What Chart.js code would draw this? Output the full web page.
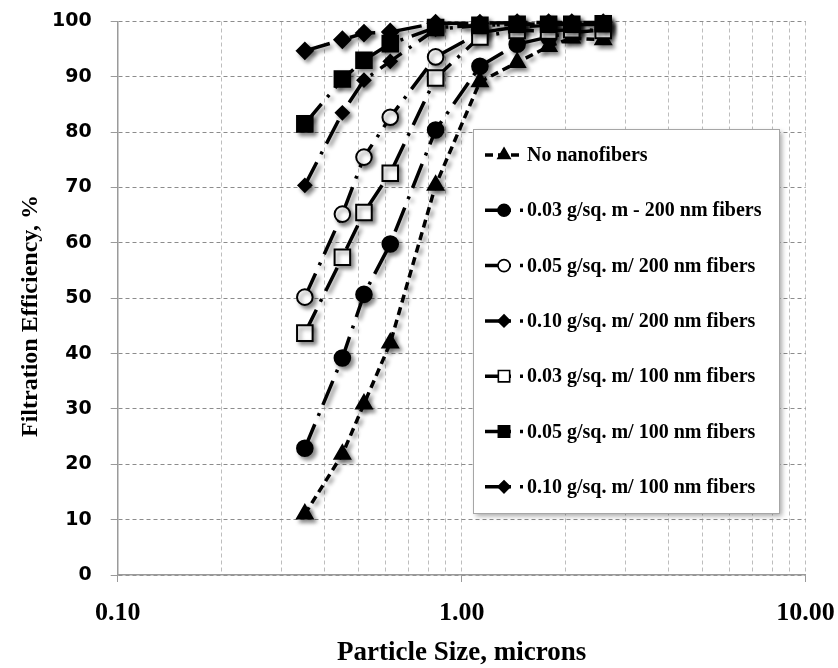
<!DOCTYPE html>
<html><head><meta charset="utf-8">
<script src="https://cdn.jsdelivr.net/npm/chart.js"></script>
<style>html,body{margin:0;padding:0;background:#fff;}#wrap{position:relative;width:838px;height:668px;}</style>
</head><body><div id="wrap"><canvas id="c"></canvas></div>
<script>
// ---- data ----
const sizes   = [0.35, 0.45, 0.52, 0.62, 0.84, 1.13, 1.45, 1.79, 2.09, 2.58];
const noNano  = [11.0, 21.8, 30.9, 41.9, 70.4, 89.1, 92.6, 95.5, 97.0, 96.7];
const g03_200 = [22.9, 39.2, 50.7, 59.8, 80.4, 91.9, 95.9, 97.2, 98.0, 98.5];
const g05_200 = [50.2, 65.2, 75.5, 82.7, 93.6, 98.0, 99.0, 99.3, 99.4, 99.5];
const g10_200 = [70.4, 83.5, 89.4, 92.8, 98.6, 99.3, 99.5, 99.6, 99.6, 99.7];
const g03_100 = [43.7, 57.4, 65.5, 72.6, 89.8, 97.2, 98.4, 98.3, 98.5, 98.4];
const g05_100 = [81.5, 89.6, 93.0, 96.0, 98.9, 99.3, 99.5, 99.5, 99.5, 99.6];
const g10_100 = [94.7, 96.7, 97.9, 98.1, 99.7, 99.7, 99.8, 99.8, 99.8, 99.8];
const seriesLabels = [
  'No nanofibers',
  '0.03 g/sq. m - 200 nm fibers',
  '0.05 g/sq. m/ 200 nm fibers',
  '0.10 g/sq. m/ 200 nm fibers',
  '0.03 g/sq. m/ 100 nm fibers',
  '0.05 g/sq. m/ 100 nm fibers',
  '0.10 g/sq. m/ 100 nm fibers'
];
const xTickValues = [0.1,0.2,0.3,0.4,0.5,0.6,0.7,0.8,0.9,1,2,3,4,5,6,7,8,9,10];
const xDecades = [0.1, 1, 10];
const yTickValues = [0,10,20,30,40,50,60,70,80,90,100];
const xTitle = 'Particle Size, microns';
const yTitle = 'Filtration Efficiency, %';

// ---- styles ----
const DASH_SHORT = [8, 5];
const DASH_LONGDOT = [26, 9, 3, 9];
const styles = [
  {pointStyle:'triangle', radius:9,   fill:'#000', dash:DASH_SHORT,   lr:7},
  {pointStyle:'circle',   radius:7.8, fill:'#000', dash:DASH_LONGDOT, lr:6},
  {pointStyle:'circle',   radius:7.8, fill:'#fff', dash:DASH_LONGDOT, lr:6},
  {pointStyle:'rectRot',  radius:6.5, fill:'#000', dash:DASH_LONGDOT, lr:6},
  {pointStyle:'rect',     radius:11,  fill:'#fff', dash:DASH_LONGDOT, lr:8},
  {pointStyle:'rect',     radius:11,  fill:'#000', dash:DASH_LONGDOT, lr:8},
  {pointStyle:'rectRot',  radius:8,   fill:'#000', dash:DASH_LONGDOT, lr:6}
];
const seriesValues = [noNano, g03_200, g05_200, g10_200, g03_100, g05_100, g10_100];

const datasets = seriesValues.map((vals, i) => ({
  label: seriesLabels[i],
  data: sizes.map((x, j) => ({x: x, y: vals[j]})),
  borderColor: '#000',
  borderWidth: 3.5,
  borderDash: styles[i].dash,
  borderCapStyle: 'butt',
  tension: 0,
  fill: false,
  pointStyle: styles[i].pointStyle,
  pointRadius: styles[i].radius,
  pointHoverRadius: styles[i].radius,
  pointBackgroundColor: styles[i].fill,
  pointBorderColor: '#000',
  pointBorderWidth: 2,
  clip: false,
  order: -i,
  legendRadius: styles[i].lr
}));

function drawMarker(ctx, style, r, x, y, fill) {
  ctx.save();
  ctx.setLineDash([]);
  ctx.fillStyle = fill; ctx.strokeStyle = '#000'; ctx.lineWidth = 1.6;
  ctx.beginPath();
  if (style === 'circle') {
    ctx.arc(x, y, r, 0, Math.PI*2);
  } else if (style === 'triangle') {
    ctx.moveTo(x, y - r);
    ctx.lineTo(x + r*0.866, y + r*0.5);
    ctx.lineTo(x - r*0.866, y + r*0.5);
    ctx.closePath();
  } else if (style === 'rect') {
    const s = r*0.7071;
    ctx.rect(x - s, y - s, 2*s, 2*s);
  } else if (style === 'rectRot') {
    ctx.moveTo(x, y - r); ctx.lineTo(x + r, y); ctx.lineTo(x, y + r); ctx.lineTo(x - r, y); ctx.closePath();
  }
  ctx.fill(); ctx.stroke();
  ctx.restore();
}

function zeroPad(scale) {
  scale.paddingTop = 0; scale.paddingBottom = 0; scale.paddingLeft = 0; scale.paddingRight = 0;
}

const shadowPlugin = {
  id: 'shadow',
  beforeDatasetsDraw(chart) {
    const ctx = chart.ctx;
    ctx.save();
    ctx.shadowColor = 'rgba(0,0,0,0.45)';
    ctx.shadowBlur = 4;
    ctx.shadowOffsetX = 3;
    ctx.shadowOffsetY = 3;
  },
  afterDatasetsDraw(chart) { chart.ctx.restore(); }
};

// y-axis title (drawn off-centre, as in the reference)
const yTitlePlugin = {
  id: 'yTitle',
  afterDraw(chart) {
    const ctx = chart.ctx;
    ctx.save();
    ctx.translate(31, 316);
    ctx.rotate(-Math.PI / 2);
    ctx.fillStyle = '#000';
    ctx.font = 'bold 24px "Liberation Serif", "Times New Roman", serif';
    ctx.textAlign = 'center';
    ctx.textBaseline = 'middle';
    ctx.fillText(yTitle, 0, 0);
    ctx.restore();
  }
};

const legendPlugin = {
  id: 'boxLegend',
  afterDatasetsDraw(chart) {
    const ctx = chart.ctx;
    const bx = 473, by = 129, bw = 306, bh = 384;
    ctx.save();
    ctx.shadowColor = 'rgba(0,0,0,0.35)';
    ctx.shadowBlur = 5; ctx.shadowOffsetX = 3; ctx.shadowOffsetY = 3;
    ctx.fillStyle = '#fff';
    ctx.fillRect(bx, by, bw, bh);
    ctx.restore();
    ctx.save();
    ctx.strokeStyle = '#a6a6a6'; ctx.lineWidth = 1;
    ctx.strokeRect(bx + 0.5, by + 0.5, bw, bh);
    ctx.restore();
    chart.data.datasets.forEach((ds, i) => {
      const y = 155 + i * 55.3;
      ctx.save();
      ctx.strokeStyle = '#000';
      ctx.lineWidth = 3.5;
      ctx.lineCap = 'butt';
      ctx.setLineDash(ds.borderDash);
      ctx.beginPath(); ctx.moveTo(485, y); ctx.lineTo(524, y); ctx.stroke();
      ctx.restore();
      drawMarker(ctx, ds.pointStyle, ds.legendRadius, 504, y, ds.pointBackgroundColor);
      ctx.save();
      ctx.fillStyle = '#000';
      ctx.font = 'bold 20px "Liberation Serif", "Times New Roman", serif';
      ctx.textBaseline = 'middle';
      ctx.textAlign = 'left';
      ctx.fillText(ds.label, 527, y + 1);
      ctx.restore();
    });
  }
};

new Chart(document.getElementById('c'), {
  type: 'line',
  data: { datasets: datasets },
  plugins: [shadowPlugin, legendPlugin, yTitlePlugin],
  options: {
    responsive: true,
    maintainAspectRatio: false,
    animation: false,
    devicePixelRatio: 1,
    layout: { autoPadding: false, padding: { left: 0, right: 32.4, top: 21.5, bottom: 0 } },
    plugins: { legend: { display: false }, tooltip: { enabled: false } },
    events: [],
    scales: {
      x: {
        type: 'logarithmic',
        min: 0.1, max: 10,
        afterBuildTicks(scale) {
          scale.ticks = xTickValues.map(v => ({ value: v, major: xDecades.includes(v) }));
        },
        afterFit(scale) { scale.height = 93; zeroPad(scale); },
        ticks: {
          autoSkip: false, maxRotation: 0, minRotation: 0,
          padding: 16,
          color: '#000',
          font: { family: '"Liberation Serif", "Times New Roman", serif', size: 26, weight: 'bold' },
          callback(value) {
            const k = xDecades.findIndex(d => Math.abs(d - value) < 1e-9);
            return k >= 0 ? xDecades[k].toFixed(2) : '';
          }
        },
        grid: {
          color: '#bdbdbd', lineWidth: 1, tickLength: 7,
          tickColor: (c) => (c.tick && xDecades.some(d => Math.abs(d - c.tick.value) < 1e-9)) ? '#9a9a9a' : 'rgba(0,0,0,0)'
        },
        border: { display: true, color: '#9a9a9a', width: 1.5, dash: [4, 3] },
        title: {
          display: true, text: xTitle, color: '#000',
          font: { family: '"Liberation Serif", "Times New Roman", serif', size: 27, weight: 'bold', lineHeight: 1 },
          padding: { top: 0, bottom: 1 }
        }
      },
      y: {
        type: 'linear', min: 0, max: 100,
        afterBuildTicks(scale) { scale.ticks = yTickValues.map(v => ({ value: v })); },
        afterFit(scale) { scale.width = 117.7; zeroPad(scale); },
        ticks: {
          padding: 19, color: '#000',
          font: { family: '"DejaVu Sans", Verdana, sans-serif', size: 19, weight: 'bold' },
          callback(v) { return String(v); }
        },
        grid: { color: '#8c8c8c', lineWidth: 1, tickLength: 7, tickColor: '#9a9a9a' },
        border: { display: true, color: '#9a9a9a', width: 1.5, dash: [4, 3] },
        title: { display: false, text: yTitle }
      }
    }
  }
});
</script></body></html>
